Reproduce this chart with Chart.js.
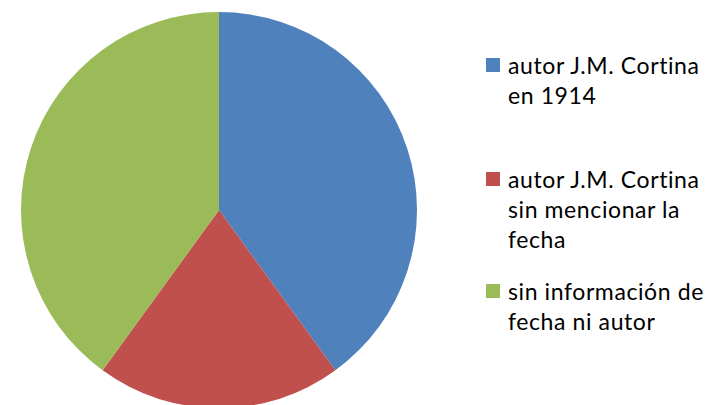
<!DOCTYPE html>
<html>
<head>
<meta charset="utf-8">
<script src="https://cdn.jsdelivr.net/npm/chart.js@4/dist/chart.umd.min.js"></script>
<style>
  body { margin: 0; background: #fff; width: 713px; height: 405px; overflow: hidden; position: relative; }
  #wrap { position: absolute; left: 21px; top: 12px; width: 396px; height: 396px; }
  .legend { position: absolute; left: 486px; top: 0; font-family: Lato, sans-serif; font-size: 23px; letter-spacing: 0.6px; line-height: 30px; color: #000; }
  .item { position: absolute; left: 0; white-space: nowrap; }
  .box { position: absolute; left: 0; width: 14px; height: 14px; }
  .txt { position: absolute; left: 22px; }
</style>
</head>
<body>
<div id="wrap"><canvas id="myChart"></canvas></div>
<div class="legend" id="legend"></div>
<script>
var categories = [
    ['autor J.M. Cortina', 'en 1914'],
    ['autor J.M. Cortina', 'sin mencionar la', 'fecha'],
    ['sin información de', 'fecha ni autor']
];
var values = [40, 20, 40];
var colors = ['#4F81BD', '#C0504D', '#9BBB59'];
var legendTops = [50, 164, 276];

var ctx = document.getElementById('myChart').getContext('2d');
var myChart = new Chart(ctx, {
    type: 'pie',
    data: {
        labels: categories.map(function (c) { return c.join(' '); }),
        datasets: [{
            data: values,
            backgroundColor: colors,
            borderWidth: 0
        }]
    },
    options: {
        responsive: true,
        maintainAspectRatio: false,
        animation: false,
        layout: { padding: 0 },
        plugins: {
            legend: { display: false },
            tooltip: { enabled: false }
        }
    }
});

// legend built by hand so the labels wrap like the original
var legend = document.getElementById('legend');
categories.forEach(function (lines, i) {
    var item = document.createElement('div');
    item.className = 'item';
    item.style.top = legendTops[i] + 'px';
    var box = document.createElement('div');
    box.className = 'box';
    box.style.background = colors[i];
    box.style.top = '8px';
    var txt = document.createElement('div');
    txt.className = 'txt';
    txt.innerHTML = lines.join('<br>');
    item.appendChild(box);
    item.appendChild(txt);
    legend.appendChild(item);
});
</script>
</body>
</html>
